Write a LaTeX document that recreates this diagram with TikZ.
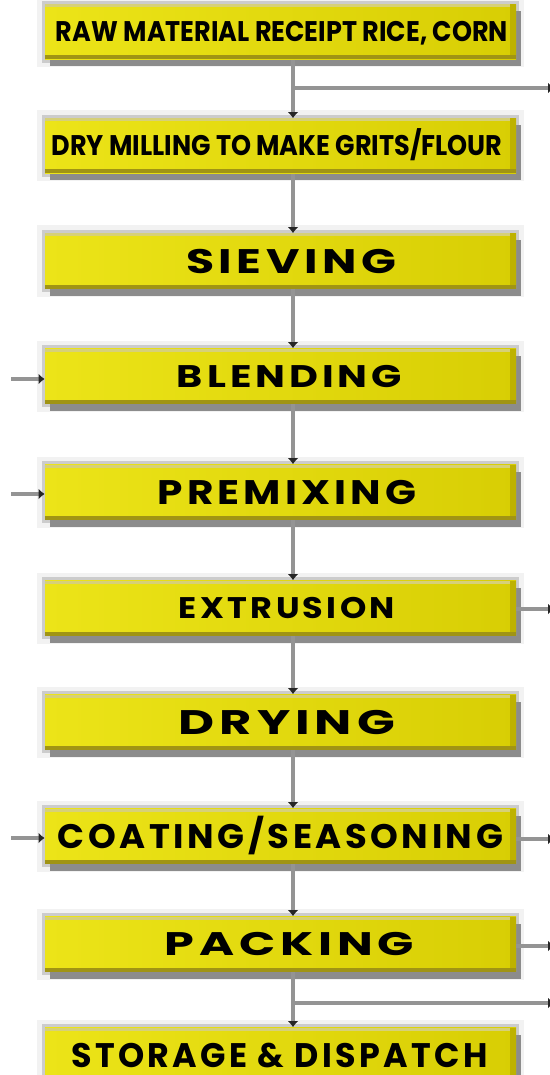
\documentclass[tikz,border=0pt]{standalone}
\usepackage{fontspec}
\usepackage{graphicx}
\usetikzlibrary{arrows.meta,shadows}
\newfontfamily\widefont{Poppins}[LetterSpace=10]
\newfontfamily\tightfont{Poppins}
\definecolor{ylA}{RGB}{236,228,24}
\definecolor{ylB}{RGB}{216,206,4}
\definecolor{ylR}{RGB}{190,178,0}
\definecolor{ylBot}{RGB}{160,148,20}
\definecolor{ylTop}{RGB}{214,208,120}
\definecolor{flowgray}{RGB}{148,148,148}
\newcommand\fitlabel[4]{\hspace*{#4}\resizebox{#1}{#2}{\raisebox{0pt}[\fontcharht\font`H][0pt]{#3}}}
\tikzset{
  stage/.style={rectangle, minimum width=235.5pt, minimum height=27.5pt, inner sep=0pt,
    font=\widefont\bfseries,
    preaction={draw=black!5, line width=8pt},
    preaction={draw=black!20, line width=3.2pt},
    general shadow={fill=black!45, shadow xshift=2.5pt, shadow yshift=-3.5pt},
    left color=ylA, right color=ylB,
    path picture={
      \fill[ylTop] (path picture bounding box.north west) rectangle ([yshift=-1.5pt]path picture bounding box.north east);
      \fill[ylR] ([xshift=-3pt]path picture bounding box.north east) rectangle (path picture bounding box.south east);
      \fill[ylBot] (path picture bounding box.south west) rectangle ([yshift=2pt]path picture bounding box.south east);
    }},
  narrowstage/.style={stage, font=\tightfont\bfseries},
  flow/.style={draw=flowgray, line width=1.6pt, -{Latex[length=3pt,width=5.5pt,color=black!85]}}
}
\begin{document}
\begin{tikzpicture}[x=0.5pt, y=-0.5pt]
\useasboundingbox (0,0) rectangle (550,1075);
\clip (0,0) rectangle (550,1075);
\fill[white] (0,0) rectangle (550,1075);
\coordinate (mx) at (293,0);
\node[narrowstage] (b1) at (280.5,32) {\fitlabel{226pt}{10pt}{RAW MATERIAL RECEIPT RICE, CORN}{1.5pt}};
\node[narrowstage] (b2) at (280.5,146) {\fitlabel{225.5pt}{10pt}{DRY MILLING TO MAKE GRITS/FLOUR}{-3.5pt}};
\node[stage] (b3) at (280.5,261) {\fitlabel{105pt}{12pt}{SIEVING}{10.5pt}};
\node[stage] (b4) at (280.5,376) {\fitlabel{112.5pt}{11pt}{BLENDING}{9pt}};
\node[stage] (b5) at (280.5,492) {\fitlabel{129pt}{12pt}{PREMIXING}{6.5pt}};
\node[stage] (b6) at (280.5,608) {\fitlabel{108pt}{10.5pt}{EXTRUSION}{6.5pt}};
\node[stage] (b7) at (280.5,722) {\fitlabel{108pt}{12pt}{DRYING}{6.5pt}};
\node[stage] (b8) at (280.5,836) {\fitlabel{222.5pt}{12pt}{COATING/SEASONING}{0pt}};
\node[stage] (b9) at (280.5,944) {\fitlabel{124.5pt}{11.5pt}{PACKING}{9pt}};
\node[stage] (b10) at (280.5,1055) {\fitlabel{208pt}{12pt}{STORAGE \& DISPATCH}{-1pt}};
% main flow
\foreach \a/\b in {b1/b2,b2/b3,b3/b4,b4/b5,b5/b6,b6/b7,b7/b8,b8/b9,b9/b10}
  \draw[flow] (\a.south -| mx) -- (\b.north -| mx);
% branches off the main line
\coordinate (j1) at (293,88);
\coordinate (r1) at (554,88);
\draw[flow] (j1) -- (r1);
\coordinate (j9) at (293,1003);
\coordinate (r9) at (554,1003);
\draw[flow] (j9) -- (r9);
% inputs from the left
\coordinate (l4) at (11,379);
\coordinate (l5) at (11,494);
\coordinate (l8) at (11,838);
\draw[flow] (l4) -- (l4 -| b4.west);
\draw[flow] (l5) -- (l5 -| b5.west);
\draw[flow] (l8) -- (l8 -| b8.west);
% outputs to the right
\coordinate (r6) at (554,609);
\coordinate (r8) at (554,839);
\coordinate (r9b) at (554,946);
\draw[flow] (r6 -| b6.east) -- (r6);
\draw[flow] (r8 -| b8.east) -- (r8);
\draw[flow] (r9b -| b9.east) -- (r9b);
\end{tikzpicture}
\end{document}
